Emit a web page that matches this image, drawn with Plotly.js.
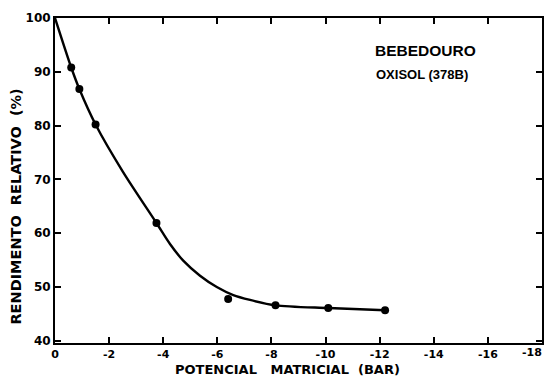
<!DOCTYPE html>
<html>
<head>
<meta charset="utf-8">
<script src="https://cdn.plot.ly/plotly-3.0.1.min.js"></script>
<style>html,body{margin:0;padding:0;background:#fff;}#chart{width:544px;height:378px;}</style>
</head>
<body>
<div id="chart"></div>
<script>
// Measured points
const pointX = [-0.6, -0.9, -1.5, -3.75, -6.4, -8.15, -10.1, -12.2];
const pointY = [90.8, 86.8, 80.2, 61.9, 47.8, 46.6, 46.1, 45.7];
// Fitted curve
const curveX = [0, -0.6, -0.9, -1.5, -2.5, -3.75, -4.25, -4.74, -5.36, -5.98, -6.59, -7.21, -8.15, -10.1, -12.2];
const curveY = [100, 90.8, 86.8, 80.2, 71.5, 61.9, 58.0, 54.9, 52.1, 50.0, 48.5, 47.6, 46.6, 46.1, 45.7];
// Tick labels
const xTickVals = [0, -2, -4, -6, -8, -10, -12, -14, -16, -18];
const xTickText = ["0", "-2", "-4", "-6", "-8", "-10", "-12", "-14", "-16", "-18"];
const yTickVals = [40, 50, 60, 70, 80, 90, 100];
const yTickText = ["40", "50", "60", "70", "80", "90", "100"];
const xTitle = "POTENCIAL\u00a0\u00a0\u00a0MATRICIAL\u00a0\u00a0(BAR)";
const yTitle = "RENDIMENTO\u00a0\u00a0RELATIVO\u00a0\u00a0(%)";

const font = "Liberation Sans, Arial, sans-serif";
const tickFont = "DejaVu Sans, sans-serif";

const lastIdx = xTickText.length - 1;
const shownTickText = xTickText.map((t, i) => i === lastIdx ? "" : t);

const traces = [
  {x: curveX, y: curveY, mode: 'lines', line: {color: '#000', width: 2.4, shape: 'spline', smoothing: 0.8}, hoverinfo: 'skip'},
  {x: pointX, y: pointY, mode: 'markers', marker: {color: '#000', size: 8}}
];

const layout = {
  width: 544, height: 378,
  margin: {l: 55, r: 2, t: 18, b: 35},
  paper_bgcolor: '#fff', plot_bgcolor: '#fff',
  showlegend: false,
  font: {family: font, color: '#000'},
  xaxis: {
    range: [0, -18], tickvals: xTickVals, ticktext: shownTickText,
    ticks: 'inside', ticklen: 6, tickwidth: 2, tickcolor: '#000',
    showline: true, linewidth: 2, linecolor: '#000', mirror: 'ticks',
    showgrid: false, zeroline: false,
    tickfont: {family: tickFont, size: 11, color: '#000', weight: 'bold'}
  },
  yaxis: {
    range: [39.6, 100], tickvals: yTickVals, ticktext: yTickText,
    ticks: 'inside', ticklen: 6, tickwidth: 2, tickcolor: '#000',
    showline: true, linewidth: 2, linecolor: '#000', mirror: 'ticks',
    showgrid: false, zeroline: false,
    tickfont: {family: tickFont, size: 12, color: '#000', weight: 'bold'}
  },
  annotations: [
    {xref: 'paper', yref: 'paper', x: 0.652, y: 0.9, xanchor: 'left', yanchor: 'middle', showarrow: false,
     text: 'BEBEDOURO', font: {family: font, size: 15.5, color: '#000', weight: 'bold'}},
    {xref: 'paper', yref: 'paper', x: 0.655, y: 0.825, xanchor: 'left', yanchor: 'middle', showarrow: false,
     text: 'OXISOL (378B)', font: {family: font, size: 13, color: '#000', weight: 'bold'}},
    {xref: 'paper', yref: 'paper', x: 1.004, y: -0.03, xanchor: 'right', yanchor: 'middle', showarrow: false,
     text: xTickText[lastIdx], font: {family: tickFont, size: 11, color: '#000', weight: 'bold'}},
    {xref: 'paper', yref: 'paper', x: 0.478, y: -0.081, xanchor: 'center', yanchor: 'middle', showarrow: false,
     borderpad: 0,
     text: xTitle, font: {family: tickFont, size: 13, color: '#000', weight: 'bold'}},
    {xref: 'paper', yref: 'paper', x: -0.082, y: 0.42, xanchor: 'center', yanchor: 'middle', showarrow: false,
     textangle: -90, text: yTitle, font: {family: tickFont, size: 14.5, color: '#000', weight: 'bold'}}
  ]
};

Plotly.newPlot('chart', traces, layout, {displayModeBar: false, staticPlot: true});
</script>
</body>
</html>
